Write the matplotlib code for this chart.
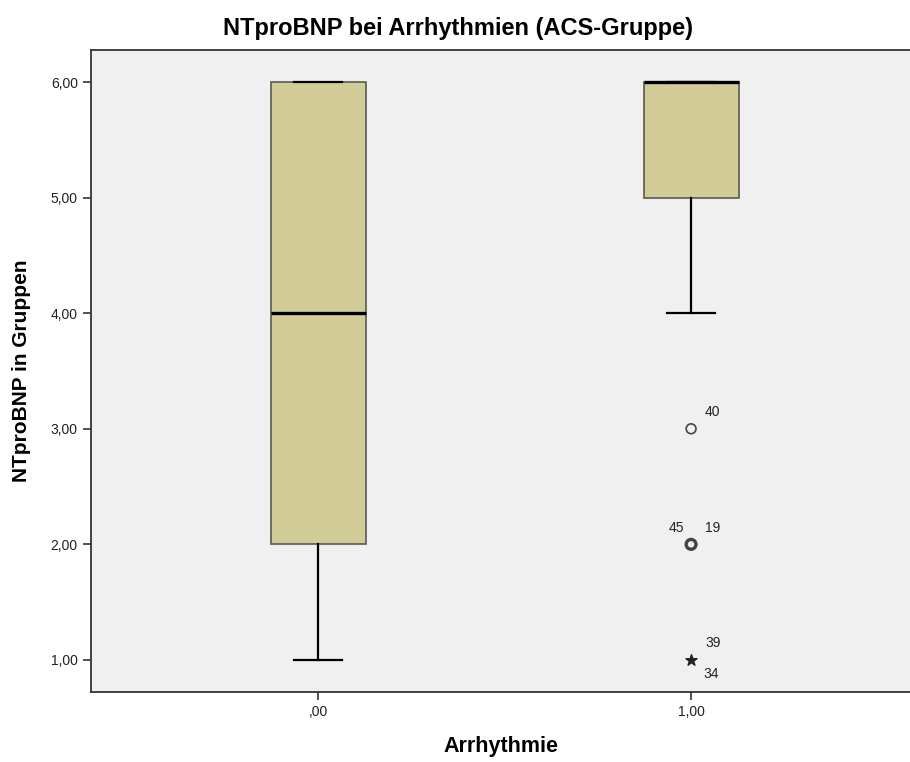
import matplotlib
matplotlib.use("Agg")
import matplotlib.pyplot as plt

plt.rcParams['font.family'] = ['Liberation Sans', 'DejaVu Sans']

categories = [",00", "1,00"]
q1 = [2.0, 5.0]
median = [4.0, 6.0]
q3 = [6.0, 6.0]
whisker_low = [1.0, 4.0]
whisker_high = [6.0, 6.0]
outlier_vals = [3.0, 2.0]
outlier_counts = [1, 2]
extreme_vals = [1.0]
yticks = [1, 2, 3, 4, 5, 6]
ytick_labels = ["1,00", "2,00", "3,00", "4,00", "5,00", "6,00"]

fig = plt.figure(figsize=(9.10, 7.62), dpi=100)
ax = fig.add_axes([0.1, 0.0919, 0.9, 0.8425])
ax.set_facecolor('#F0F0F0')

stats = []
for i in range(2):
    stats.append(dict(med=median[i], q1=q1[i], q3=q3[i],
                      whislo=whisker_low[i], whishi=whisker_high[i],
                      fliers=[], label=categories[i]))
pos = list(range(len(categories)))
ax.bxp(stats, positions=pos, widths=0.255, patch_artist=True, showfliers=False,
       boxprops=dict(facecolor='#D2CD98', edgecolor='#5a5a50', linewidth=1.2),
       medianprops=dict(color='black', linewidth=2.4),
       whiskerprops=dict(color='black', linewidth=1.6),
       capprops=dict(color='black', linewidth=1.6),
       capwidths=0.127)

# outliers (group 1)
for v, c in zip(outlier_vals, outlier_counts):
    ax.scatter([pos[1]], [v], s=50, facecolors='none',
               edgecolors='#444444', linewidths=1.2 * c, zorder=5)
ax.scatter([pos[1]] * len(extreme_vals), extreme_vals, marker='*', s=70,
           color='#222222', zorder=5)
lab = dict(fontsize=10, color='#222222', textcoords='offset points')
ax.annotate("40", (pos[1], outlier_vals[0]), xytext=(10, 9), **lab)
ax.annotate("45", (pos[1], outlier_vals[1]), xytext=(-16, 9), **lab)
ax.annotate("19", (pos[1], outlier_vals[1]), xytext=(10, 9), **lab)
ax.annotate("39", (pos[1], extreme_vals[0]), xytext=(10, 9), **lab)
ax.annotate("34", (pos[1], extreme_vals[0]), xytext=(9, -13), **lab)

ax.set_xlim(-0.609, 1.587)
ax.set_ylim(0.723, 6.277)
ax.set_yticks(yticks)
ax.set_yticklabels(ytick_labels, fontsize=10, color='#222222')
ax.set_xticks(pos)
ax.set_xticklabels(categories, fontsize=10, color='#222222')
ax.tick_params(axis='both', direction='out', length=6, width=1.2, color='#333333')

for s in ['left', 'bottom', 'top']:
    ax.spines[s].set_color('#333333')
    ax.spines[s].set_linewidth(1.3)
ax.spines['right'].set_visible(False)

ax.set_xlabel("Arrhythmie", fontsize=15.5, fontweight='bold', labelpad=12)
ax.set_ylabel("NTproBNP in Gruppen", fontsize=15, fontweight='bold', labelpad=14)
fig.suptitle("NTproBNP bei Arrhythmien (ACS-Gruppe)", fontsize=17, fontweight='bold',
             x=0.503, y=0.978)

fig.savefig("out.png", dpi=100)
